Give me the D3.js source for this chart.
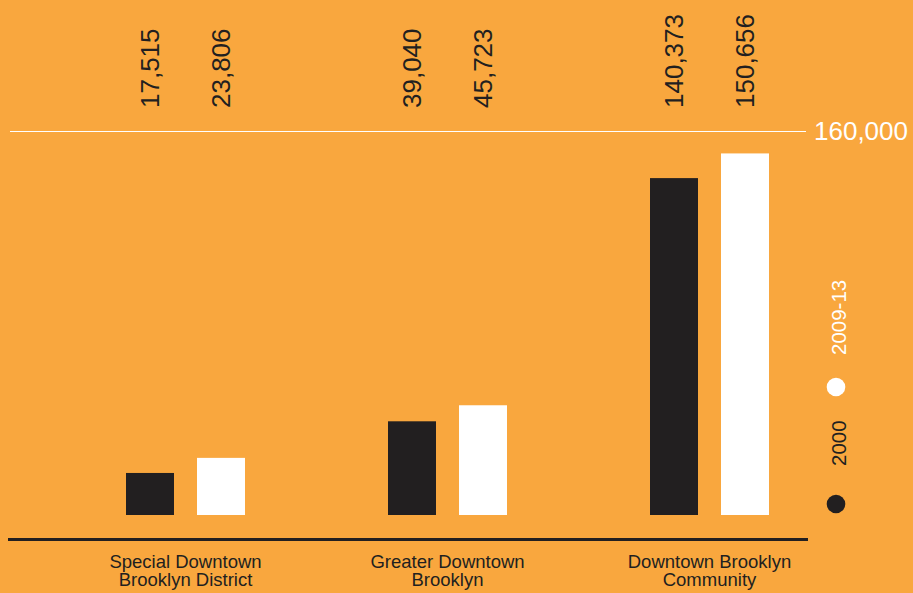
<!DOCTYPE html>
<html>
<head>
<meta charset="utf-8">
<script src="https://cdn.jsdelivr.net/npm/d3@7/dist/d3.min.js"></script>
<style>
  html, body { margin: 0; padding: 0; background: #F9A73E; }
  svg { display: block; }
  text { font-family: "Liberation Sans", Arial, sans-serif; }
</style>
</head>
<body>
<script>
// ---- data ----
const categories = ["Special Downtown|Brooklyn District", "Greater Downtown|Brooklyn", "Downtown Brooklyn|Community"];
const seriesNames = ["2000", "2009-13"];
const values2000 = [17515, 39040, 140373];
const values2009 = [23806, 45723, 150656];
const yTicks = [160000];

const W = 913, H = 593;
const bg = "#F9A73E", dark = "#221F20", light = "#FFFFFF";
const colors = { "2000": dark, "2009-13": light };

const svg = d3.select("body").append("svg").attr("width", W).attr("height", H);
svg.append("rect").attr("width", W).attr("height", H).attr("fill", bg);

const x0 = d3.scaleBand().domain(categories).range([54.5, 840.5]).paddingInner(0).paddingOuter(0);
const x1 = d3.scaleBand().domain(seriesNames).range([-59.5, 59.5]).paddingInner(0.324).paddingOuter(0);
const y = d3.scaleLinear().domain([0, 160000]).range([515, 131]);

const rows = categories.map((c, i) => ({ cat: c, vals: [
  { s: "2000", v: values2000[i] }, { s: "2009-13", v: values2009[i] } ] }));

// gridline + tick label
const grid = svg.append("g");
yTicks.forEach(t => {
  grid.append("line").attr("x1", 10).attr("x2", 806)
    .attr("y1", Math.round(y(t)) + 0.5).attr("y2", Math.round(y(t)) + 0.5)
    .attr("stroke", light).attr("stroke-width", 1);
  grid.append("text").attr("x", 814).attr("y", y(t)).attr("dy", "0.35em")
    .attr("fill", light).attr("font-size", 26).text(d3.format(",")(t));
});

// bars
const g = svg.selectAll("g.grp").data(rows).join("g").attr("class", "grp")
  .attr("transform", d => `translate(${x0(d.cat) + x0.bandwidth() / 2},0)`);
g.selectAll("rect").data(d => d.vals).join("rect")
  .attr("x", d => x1(d.s)).attr("width", x1.bandwidth())
  .attr("y", d => y(d.v)).attr("height", d => y(0) - y(d.v))
  .attr("fill", d => colors[d.s]);

// value labels (rotated)
g.selectAll("text.val").data(d => d.vals).join("text").attr("class", "val")
  .attr("transform", d => `translate(${x1(d.s) + x1.bandwidth() / 2},108) rotate(-90)`)
  .attr("dy", "0.36em").attr("fill", dark).attr("font-size", 26)
  .attr("text-anchor", "start").text(d => d3.format(",")(d.v));

// baseline
svg.append("line").attr("x1", 8).attr("x2", 808).attr("y1", 539.5).attr("y2", 539.5)
  .attr("stroke", dark).attr("stroke-width", 3);

// category labels
g.append("text").attr("text-anchor", "middle").attr("fill", dark).attr("font-size", 18.5)
  .selectAll("tspan").data(d => d.cat.split("|")).join("tspan")
  .attr("x", 0).attr("y", (d, i) => 568 + i * 18).text(d => d);

// legend
const legend = [
  { s: "2009-13", cy: 387, ty: 355 },
  { s: "2000", cy: 504, ty: 466 }
];
legend.forEach(l => {
  svg.append("circle").attr("cx", 836).attr("cy", l.cy).attr("r", 9.3).attr("fill", colors[l.s]);
  svg.append("text").attr("transform", `translate(838.5,${l.ty}) rotate(-90)`)
    .attr("dy", "0.36em").attr("font-size", 20.5).attr("fill", colors[l.s]).text(l.s);
});
</script>
</body>
</html>
